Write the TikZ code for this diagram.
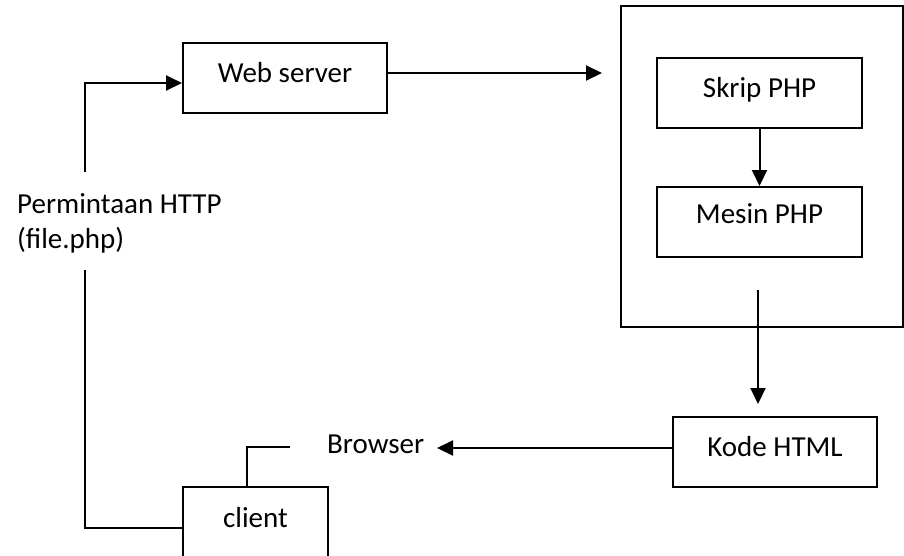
\documentclass[tikz,border=0pt]{standalone}
\usepackage{fontspec}
\setmainfont{Carlito}
\usetikzlibrary{arrows.meta}
\begin{document}
\begin{tikzpicture}[x=1pt,y=-1pt,
  txt/.style={font=\fontsize{29}{35}\selectfont},
  box/.style={txt, draw, line width=2pt, minimum width=204pt, inner xsep=0pt, inner ysep=0pt, text height=39pt, text depth=31pt},
  conn/.style={line width=2pt},
  arr/.style={conn, -{Triangle[length=16pt,width=15pt]}}]
\useasboundingbox (0,0) rectangle (904,555);
% nodes
\node[box] (ws) at (285,78) {Web server};
\node[draw, line width=2pt, minimum width=282pt, minimum height=321pt, inner sep=0pt] (srv) at (762,166.5) {};
\node[box, minimum width=205pt] (sk) at (759.5,93) {Skrip PHP};
\node[box, minimum width=205pt, text height=36pt, text depth=34pt] (ms) at (759.5,222) {Mesin PHP};
\node[box] (kd) at (775,452) {Kode HTML};
\node[box, minimum width=145pt, text height=40pt, text depth=60pt] (cl) at (255.5,537) {client};
\node[txt, inner sep=0pt, anchor=base west] (br) at (327,453) {Browser};
\node[txt, inner sep=0pt, align=left, anchor=north west] (perm) at (17,193) {Permintaan HTTP\\(file.php)};
% coordinates
\coordinate (pa) at (85,172);
\coordinate (pb) at (85,270);
\coordinate (t1) at (602,73);
\coordinate (c2) at (758,290);
\coordinate (c3) at (758,404);
\coordinate (t3) at (437,448);
\coordinate (b1) at (290,447);
\coordinate (b2) at (247,487);
\coordinate (b3) at (183,528);
% connectors
\draw[arr] (pa) |- ([yshift=-5pt]ws.west);
\draw[arr] (ws.east |- t1) -- (t1);
\draw[arr] (sk) -- (ms);
\draw[arr] (c2) -- (c3);
\draw[arr] (kd.west |- t3) -- (t3);
\draw[conn] (b1) -| (b2);
\draw[conn] (pb) |- (b3);
\end{tikzpicture}
\end{document}
